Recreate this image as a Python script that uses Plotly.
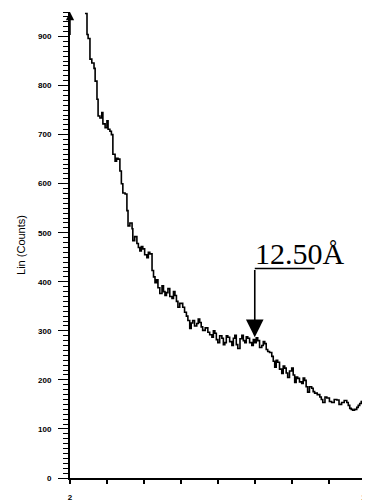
import plotly.graph_objects as go

two_theta = [2.405, 2.46, 2.49, 2.54, 2.59, 2.65, 2.68, 2.73, 2.76, 2.81, 2.86, 2.89, 2.95, 3.00, 3.03,
             3.08, 3.12, 3.16, 3.22, 3.26, 3.30, 3.35, 3.39, 3.43, 3.49, 3.54, 3.57, 3.62, 3.68, 3.70,
             3.75, 3.81, 3.85, 3.89, 3.93, 3.97, 4.02, 4.08, 4.12, 4.16, 4.22, 4.26, 4.30, 4.34, 4.38,
             4.43, 4.49, 4.53, 4.57, 4.61, 4.65, 4.70, 4.76, 4.80, 4.84, 4.88, 4.92, 4.97, 5.05, 5.10,
             5.15, 5.19, 5.24, 5.28, 5.32, 5.37, 5.43, 5.47, 5.51, 5.55, 5.59, 5.66, 5.73, 5.78, 5.84,
             5.88, 5.92, 5.96, 6.00, 6.05, 6.11, 6.15, 6.19, 6.23, 6.27, 6.32, 6.38, 6.42, 6.46, 6.50,
             6.54, 6.60, 6.65, 6.69, 6.73, 6.77, 6.81, 6.86, 6.92, 6.96, 7.00, 7.04, 7.08, 7.13, 7.19,
             7.23, 7.27, 7.31, 7.35, 7.40, 7.46, 7.50, 7.54, 7.58, 7.62, 7.67, 7.73, 7.77, 7.81, 7.85,
             7.89, 7.94, 8.00, 8.04, 8.08, 8.12, 8.16, 8.21, 8.27, 8.31, 8.35, 8.39, 8.43, 8.48, 8.54,
             8.58, 8.62, 8.69, 8.76, 8.80, 8.84, 8.90, 8.95, 9.02, 9.08, 9.15, 9.22, 9.28, 9.35, 9.42,
             9.49, 9.53, 9.57, 9.61, 9.65, 9.70, 9.76, 9.80, 9.84, 9.88, 9.92]
counts = [947, 904, 896, 854, 846, 835, 809, 772, 738, 734, 745, 722, 714, 728, 711,
          707, 700, 660, 646, 652, 650, 626, 600, 581, 579, 545, 514, 520, 508, 484,
          492, 478, 470, 463, 472, 467, 455, 449, 460, 457, 423, 410, 398, 404, 388,
          376, 392, 380, 372, 378, 386, 370, 366, 380, 372, 360, 348, 356, 348, 338,
          330, 321, 305, 316, 321, 310, 315, 324, 317, 308, 301, 306, 297, 292, 287,
          300, 295, 282, 276, 290, 285, 272, 276, 290, 287, 278, 270, 285, 291, 272,
          264, 284, 291, 280, 276, 288, 285, 276, 270, 282, 276, 286, 280, 266, 270,
          278, 274, 262, 258, 256, 248, 238, 226, 240, 236, 222, 213, 228, 224, 214,
          205, 218, 224, 210, 195, 206, 203, 196, 193, 204, 199, 186, 175, 186, 183,
          176, 173, 170, 165, 160, 154, 165, 163, 156, 154, 160, 159, 150, 154, 158,
          154, 148, 142, 140, 138, 140, 144, 148, 152, 156, 159]

y_ticks = [0, 100, 200, 300, 400, 500, 600, 700, 800, 900]
x_ticks = [2, 10]
x_tick_text = ["2", "10"]
peak_label = "12.50Å"

fig = go.Figure()
fig.add_trace(go.Scatter(x=two_theta, y=counts, mode="lines",
                         line=dict(color="black", width=1.6, shape="hv"),
                         showlegend=False, hoverinfo="skip"))

# arrow annotation for the peak
fig.add_shape(type="line", xref="x", yref="y", x0=7.0, x1=8.62, y0=427, y1=427,
              line=dict(color="black", width=1.6))
fig.add_annotation(x=7.0, y=287, ax=7.0, ay=427, xref="x", yref="y", axref="x", ayref="y",
                   showarrow=True, arrowhead=2, arrowsize=2.2, arrowwidth=1.6, arrowcolor="black",
                   text="")
fig.add_annotation(x=6.96, y=419, xref="x", yref="y", text=peak_label, showarrow=False,
                   xanchor="left", yanchor="bottom",
                   font=dict(family="Liberation Serif", size=30, color="black"))
# arrowhead on top of y axis
fig.add_annotation(x=2, y=950, ax=2, ay=900, xref="x", yref="y", axref="x", ayref="y",
                   showarrow=True, arrowhead=2, arrowsize=1.1, arrowwidth=1.5, arrowcolor="black",
                   text="")

tick_font = dict(size=8, family="Liberation Sans", color="black", weight="bold")

# the page body adds an 8px margin, so the figure is sized to end at the window edge
fig.update_layout(
    template="none",
    width=362, height=494,
    margin=dict(l=62, r=4, t=4, b=24, autoexpand=False),
    paper_bgcolor="white", plot_bgcolor="white",
    font=dict(family="Liberation Sans", color="black"),
    xaxis=dict(range=[2, 10.01], showgrid=False, zeroline=False, showline=True, automargin=False,
               linecolor="black", linewidth=2,
               tickmode="array", tickvals=x_ticks, ticktext=x_tick_text,
               ticks="outside", ticklen=4, tickwidth=1.5, tickcolor="black",
               tickfont=tick_font, ticklabelstandoff=6, ticklabeloverflow="allow",
               minor=dict(dtick=1, ticks="outside", ticklen=4, tickwidth=1.5, tickcolor="black",
                          showgrid=False)),
    yaxis=dict(range=[0, 950], showgrid=False, zeroline=False, showline=True, automargin=False,
               linecolor="black", linewidth=2,
               tickmode="array", tickvals=y_ticks,
               ticks="outside", ticklen=10, tickwidth=1.3, tickcolor="black",
               tickfont=tick_font, ticklabelstandoff=5,
               minor=dict(dtick=10, tick0=0, ticks="outside", ticklen=5, tickwidth=1, tickcolor="black",
                          showgrid=False),
               title=dict(text="Lin (Counts)", font=dict(size=11, family="Liberation Sans", color="black"),
                          standoff=10)),
)

fig.write_html("out.html")
